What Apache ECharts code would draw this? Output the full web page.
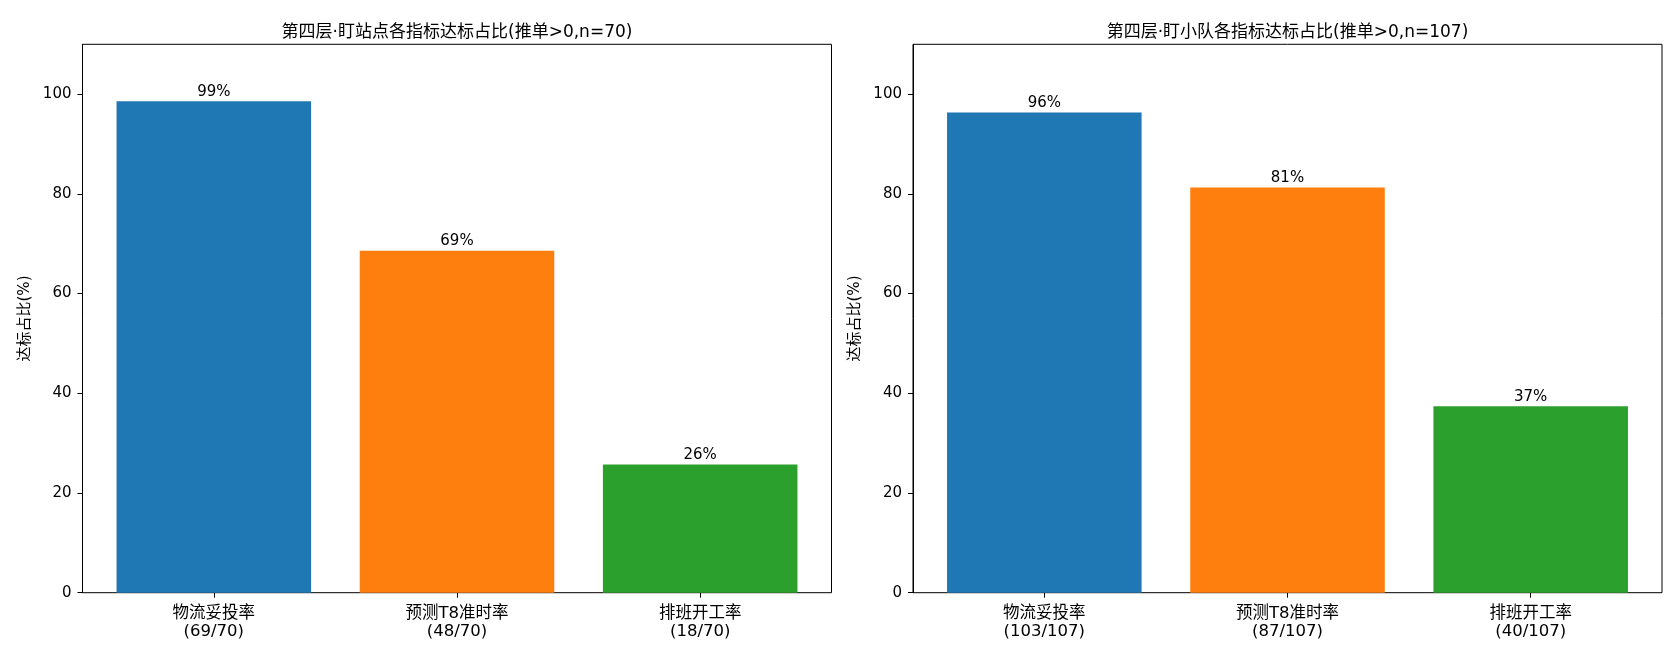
<!DOCTYPE html>
<html>
<head>
<meta charset="utf-8">
<script src="https://cdn.jsdelivr.net/npm/echarts@6/dist/echarts.min.js"></script>
<style>
  html, body { margin: 0; padding: 0; background: #fff; }
  #main { width: 1680px; height: 660px; }
</style>
</head>
<body>
<div id="main"></div>
<script>
// 数据
var categories = ['物流妥投率', '预测T8准时率', '排班开工率'];
var barColors = ['#1f77b4', '#ff7f0e', '#2ca02c'];

var siteTitle = '第四层·盯站点各指标达标占比(推单>0,n=70)';
var siteCounts = ['69/70', '48/70', '18/70'];
var siteValues = [98.6, 68.6, 25.7];
var siteLabels = ['99%', '69%', '26%'];

var teamTitle = '第四层·盯小队各指标达标占比(推单>0,n=107)';
var teamCounts = ['103/107', '87/107', '40/107'];
var teamValues = [96.3, 81.3, 37.4];
var teamLabels = ['96%', '81%', '37%'];

var yTicks = [0, 20, 40, 60, 80, 100];
var yMax = 110;

var font = '"DejaVu Sans", "Noto Sans CJK SC", sans-serif';

// 每个子图：外框 grid + 柱子 grid（对齐 matplotlib 的左右留白）
var panels = [
  { left: 82.5, width: 749, title: siteTitle, counts: siteCounts, values: siteValues, labels: siteLabels },
  { left: 913, width: 749, title: teamTitle, counts: teamCounts, values: teamValues, labels: teamLabels }
];
var plotTop = 44.3, plotHeight = 548.4;

var grid = [], xAxis = [], yAxis = [], series = [], title = [];

panels.forEach(function (p, i) {
  var unit = p.width / 3.08;
  var frameIdx = i * 2, barIdx = i * 2 + 1;
  grid.push({ left: p.left, top: plotTop, width: p.width, height: plotHeight,
    show: true, borderColor: '#000', borderWidth: 1, backgroundColor: 'transparent' });
  grid.push({ left: p.left + 0.04 * unit, top: plotTop, width: 3 * unit, height: plotHeight });

  title.push({ text: p.title, left: p.left + p.width / 2 - 5, top: 19, textAlign: 'center',
    textStyle: { fontFamily: font, fontSize: 17, fontWeight: 'normal', color: '#000' } });

  xAxis.push({ gridIndex: frameIdx, type: 'value', min: 0, max: 1, show: false });
  xAxis.push({
    gridIndex: barIdx, type: 'category', data: categories.map(function (c, k) { return c + '\n(' + p.counts[k] + ')'; }),
    axisLine: { show: false },
    axisTick: { show: true, alignWithLabel: true, length: 5, lineStyle: { color: '#000' } },
    axisLabel: { color: '#000', fontFamily: font, fontSize: 16.5, lineHeight: 18, margin: 12 }
  });

  yAxis.push({
    gridIndex: frameIdx, type: 'value', min: 0, max: yMax,
    name: '达标占比(%)', nameLocation: 'middle', nameGap: 50, nameRotate: 90,
    nameTextStyle: { color: '#000', fontFamily: font, fontSize: 15 },
    axisLine: { show: true, lineStyle: { color: '#000', width: 1 } },
    axisTick: { show: true, length: 5, customValues: yTicks, lineStyle: { color: '#000' } },
    axisLabel: { color: '#000', fontFamily: font, fontSize: 15, margin: 11, customValues: yTicks },
    splitLine: { show: false }
  });
  yAxis.push({ gridIndex: barIdx, type: 'value', min: 0, max: yMax, show: false });

  series.push({
    type: 'bar', xAxisIndex: barIdx, yAxisIndex: barIdx, barWidth: '80%',
    data: p.values.map(function (v, k) { return { value: v, itemStyle: { color: barColors[k] } }; }),
    label: { show: true, position: 'top', distance: 2, color: '#000', fontFamily: font, fontSize: 15,
      formatter: function (d) { return p.labels[d.dataIndex]; } },
    silent: true
  });
});

var chart = echarts.init(document.getElementById('main'));
chart.setOption({
  animation: false,
  backgroundColor: '#fff',
  title: title,
  grid: grid,
  xAxis: xAxis,
  yAxis: yAxis,
  series: series
});
</script>
</body>
</html>
